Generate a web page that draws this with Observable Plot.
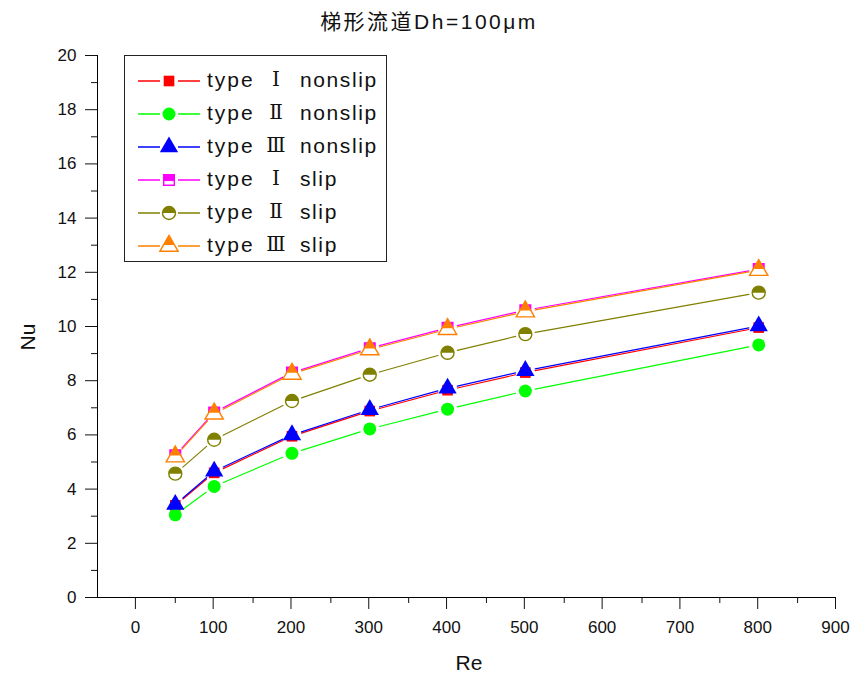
<!DOCTYPE html>
<html>
<head>
<meta charset="utf-8">
<script src="https://cdn.jsdelivr.net/npm/d3@7"></script>
<script src="https://cdn.jsdelivr.net/npm/@observablehq/plot@0.6"></script>
<style>
  html, body { margin: 0; padding: 0; background: #fff; }
  #wrap { position: relative; width: 858px; height: 682px; font-family: "Liberation Sans", Arial, "Noto Sans CJK SC", sans-serif; color: #111; }
  #title { position: absolute; left: 0; top: 0; width: 858px; height: 40px; line-height: 44px; text-align: center; font-size: 21px; letter-spacing: 2.5px; font-family: "Liberation Sans", "Noto Sans CJK SC", sans-serif; }
  #chart { position: absolute; left: 0; top: 40px; }
  #legend { position: absolute; left: 124px; top: 55px; width: 263px; height: 207px; border: 1.5px solid #222; background: #fff; box-sizing: border-box; }
  .row { position: absolute; left: 0; height: 30px; width: 260px; font-size: 21px; }
  .row svg { position: absolute; left: 12px; top: 0; }
  .row .w1 { position: absolute; left: 82px; top: 2px; letter-spacing: 2px; }
  .row .w2 { position: absolute; left: 138px; width: 26px; top: 1px; text-align: center; font-family: "DejaVu Serif", serif; font-size: 20px; }
  .row .w3 { position: absolute; left: 175px; top: 2px; letter-spacing: 1.6px; }
</style>
</head>
<body>
<div id="wrap">
  <div id="title">梯形流道Dh=100μm</div>
  <div id="chart"></div>
  <div id="legend"></div>
</div>
<script>
// ---- data ----
const re = [50, 100, 200, 300, 400, 500, 800];
const typeINonslip   = [3.40, 4.60, 5.95, 6.88, 7.65, 8.30, 9.96];
const typeIINonslip  = [3.05, 4.10, 5.32, 6.22, 6.95, 7.62, 9.32];
const typeIIINonslip = [3.43, 4.66, 6.00, 6.93, 7.72, 8.37, 10.02];
const typeISlip      = [5.25, 6.83, 8.30, 9.20, 9.95, 10.60, 12.12];
const typeIISlip     = [4.57, 5.82, 7.25, 8.22, 9.03, 9.72, 11.25];
const typeIIISlip    = [5.20, 6.78, 8.25, 9.15, 9.90, 10.55, 12.08];

const numerals   = ["Ⅰ", "Ⅱ", "Ⅲ", "Ⅰ", "Ⅱ", "Ⅲ"];
const conditions = ["nonslip", "nonslip", "nonslip", "slip", "slip", "slip"];
const xMajor = [0, 100, 200, 300, 400, 500, 600, 700, 800, 900];
const xMinor = [50, 150, 250, 350, 450, 550, 650, 750, 850];
const yMajor = [0, 2, 4, 6, 8, 10, 12, 14, 16, 18, 20];
const yMinor = [1, 3, 5, 7, 9, 11, 13, 15, 17, 19];

// ---- styles ----
const colors = ["#ff0000", "#00ff00", "#0000ff", "#ff00ff", "#808000", "#ff8000"];
const shapes = ["square", "circle", "triangle", "square", "circle", "triangle"];
const halfFilled = [false, false, false, true, true, true];
const radii = [6, 6.5, 6.8, 6, 6.5, 6.8];

const halfSymbols = {
  square: { draw(ctx, size) { const s = Math.sqrt(size) / 2; ctx.moveTo(-s, -s); ctx.lineTo(s, -s); ctx.lineTo(s, s * 0.2); ctx.lineTo(-s, s * 0.2); ctx.closePath(); } },
  circle: { draw(ctx, size) { const r = Math.sqrt(size / Math.PI); ctx.moveTo(-r, 0); ctx.arc(0, 0, r, Math.PI, 2 * Math.PI); ctx.closePath(); } },
  triangle: { draw(ctx, size) {
    const s3 = Math.sqrt(3); const y = -Math.sqrt(size / (s3 * 3)); const a = Math.abs(y);
    const t = 0.6; const yc = -2 * a + t * 3 * a; const hw = s3 * a * t;
    ctx.moveTo(0, 2 * y); ctx.lineTo(hw, yc); ctx.lineTo(-hw, yc); ctx.closePath(); } }
};
const fullSymbols = { square: d3.symbolSquare, circle: d3.symbolCircle, triangle: d3.symbolTriangle };

const allSeries = [typeINonslip, typeIINonslip, typeIIINonslip, typeISlip, typeIISlip, typeIIISlip];

const marks = [];
marks.push(Plot.ruleX([-50], { stroke: "#000", strokeWidth: 1 }));
marks.push(Plot.ruleY([0], { stroke: "#000", strokeWidth: 1 }));
marks.push(Plot.axisX(xMajor, { tickSize: 12, tickPadding: 11, fontSize: 17, label: null, dx: -1 }));
marks.push(Plot.axisX(xMinor, { tickSize: 6, text: null, label: null }));
marks.push(Plot.axisY(yMajor, { tickSize: 12, tickPadding: 9, fontSize: 17, label: null }));
marks.push(Plot.axisY(yMinor, { tickSize: 6, text: null, label: null }));
marks.push(Plot.text(["Nu"], { frameAnchor: "left", dx: -69, dy: 24, rotate: -90, fontSize: 21 }));
marks.push(Plot.text(["Re"], { frameAnchor: "bottom", lineAnchor: "middle", dy: 66, dx: 2, fontSize: 21 }));

allSeries.forEach((vals, i) => {
  const pts = re.map((x, j) => ({ x, y: vals[j] }));
  const segs = pts.slice(1).map((p, j) => ({ x1: pts[j].x, y1: pts[j].y, x2: p.x, y2: p.y }));
  marks.push(Plot.arrow(segs, { x1: "x1", y1: "y1", x2: "x2", y2: "y2", stroke: colors[i], strokeWidth: 1.2, headLength: 0, inset: 10 }));
});
allSeries.forEach((vals, i) => {
  const pts = re.map((x, j) => ({ x, y: vals[j] }));
  if (halfFilled[i]) {
    marks.push(Plot.dot(pts, { x: "x", y: "y", symbol: shapes[i], r: radii[i], fill: "white", stroke: colors[i], strokeWidth: 1.4 }));
    marks.push(Plot.dot(pts, { x: "x", y: "y", symbol: halfSymbols[shapes[i]], r: radii[i], fill: colors[i], stroke: "none" }));
  } else {
    marks.push(Plot.dot(pts, { x: "x", y: "y", symbol: shapes[i], r: radii[i], fill: colors[i], stroke: "none" }));
  }
});

const chart = Plot.plot({
  width: 858,
  height: 642,
  marginLeft: 97,
  marginRight: 22,
  marginTop: 15,
  marginBottom: 85,
  style: { background: "white", fontFamily: "Liberation Sans, Arial, sans-serif", color: "#111", overflow: "visible" },
  x: { domain: [-50, 900] },
  y: { domain: [0, 20] },
  marks
});
document.getElementById("chart").appendChild(chart);

// ---- legend ----
const legend = document.getElementById("legend");
const rowTops = [10, 43, 76, 109, 142, 175];
allSeries.forEach((_, i) => {
  const row = document.createElement("div");
  row.className = "row";
  row.style.top = rowTops[i] + "px";
  const size = Math.PI * radii[i] * radii[i];
  const full = d3.symbol(fullSymbols[shapes[i]], size)();
  let markerSvg;
  if (halfFilled[i]) {
    const half = d3.symbol(halfSymbols[shapes[i]], size)();
    markerSvg = `<path d="${full}" transform="translate(32,15)" fill="white" stroke="${colors[i]}" stroke-width="1.4"/>` +
                `<path d="${half}" transform="translate(32,15)" fill="${colors[i]}"/>`;
  } else {
    markerSvg = `<path d="${full}" transform="translate(32,15)" fill="${colors[i]}"/>`;
  }
  row.innerHTML = `<svg width="66" height="30">` +
    `<line x1="1" x2="23" y1="15" y2="15" stroke="${colors[i]}" stroke-width="1.5"/>` +
    `<line x1="41" x2="63" y1="15" y2="15" stroke="${colors[i]}" stroke-width="1.5"/>` +
    markerSvg + `</svg>` +
    `<span class="w1">type</span><span class="w2">${numerals[i]}</span><span class="w3">${conditions[i]}</span>`;
  legend.appendChild(row);
});
</script>
</body>
</html>
